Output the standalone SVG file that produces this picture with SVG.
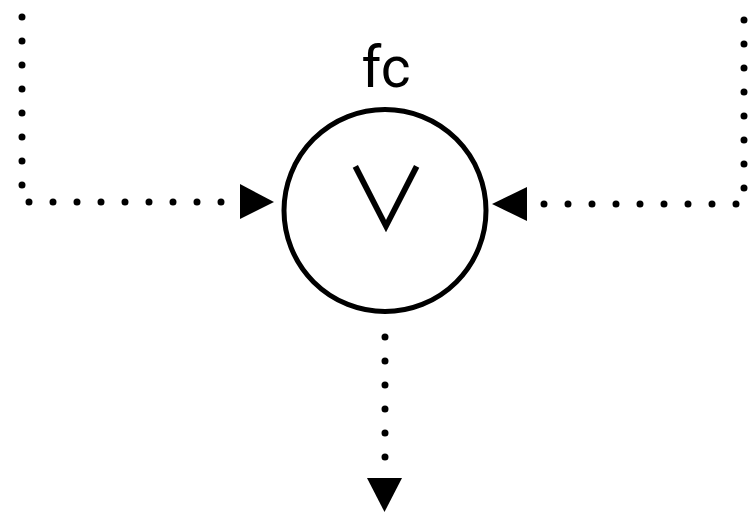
<svg xmlns="http://www.w3.org/2000/svg" width="754" height="515" viewBox="0 0 754 515">
<style>
.dot{fill:none;stroke:#000;stroke-width:7;stroke-linecap:round;stroke-dasharray:0 24}
.head{fill:#000;stroke:none}
.node{fill:#fff;stroke:#000;stroke-width:5}
.lbl{font-family:Roboto,"Liberation Sans",sans-serif;fill:#000}
</style>
<rect width="754" height="515" fill="#fff"/>
<g id="connectors">
<path class="dot" d="M22,17 L22,202 L240,202"/>
<polygon class="head" points="240,184 274,202 240,219"/>
<path class="dot" d="M744,20 L744,204 L527,204"/>
<polygon class="head" points="527,187 492,204 527,221"/>
<path class="dot" d="M385,337 L385,478"/>
<polygon class="head" points="367,478 402,478 384.5,512"/>
</g>
<g id="node-fc">
<circle class="node" cx="385" cy="210.5" r="101"/>
<text class="lbl" x="386" y="87" font-size="57" text-anchor="middle">fc</text>
<text x="386" y="231" font-family="'Noto Sans CJK SC',sans-serif" font-size="86" text-anchor="middle">∨</text>
</g>
</svg>
